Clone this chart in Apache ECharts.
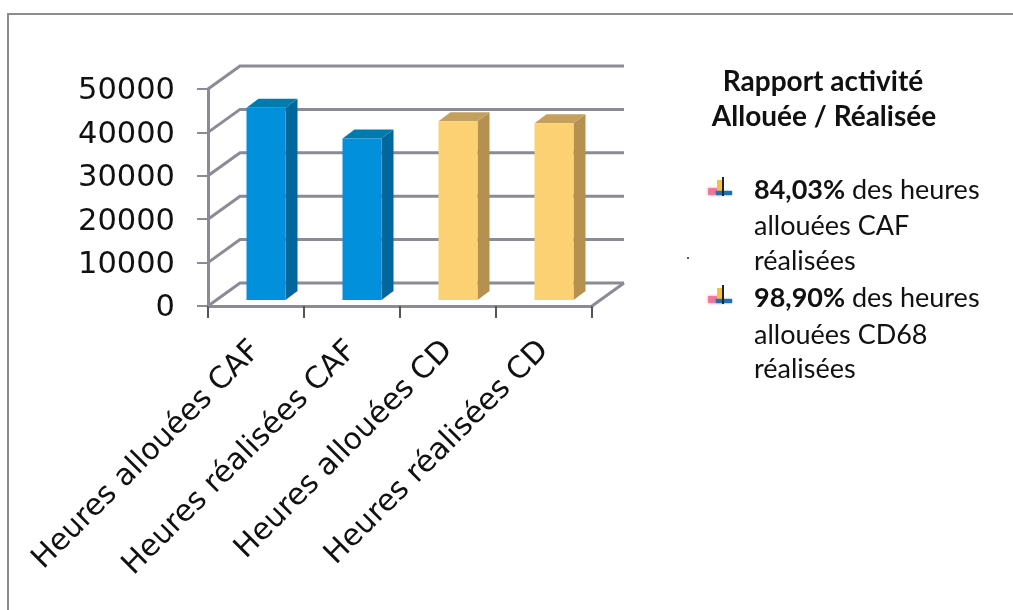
<!DOCTYPE html>
<html><head><meta charset="utf-8">
<style>html,body{margin:0;padding:0;background:#fff}#c{width:1013px;height:610px}</style>
<script src="https://cdn.jsdelivr.net/npm/echarts@6/dist/echarts.min.js"></script>
</head><body><div id="c"></div>
<script>
const categories = ['Heures allouées CAF','Heures réalisées CAF','Heures allouées CD','Heures réalisées CD'];
const hours = [44300, 37200, 41200, 40750];
const yTicks = [0,10000,20000,30000,40000,50000];
const panelTitle = ['Rapport activité','Allouée / Réalisée'];
const panelItems = [
  {bold:'84,03%', lines:[' des heures','allouées CAF','réalisées']},
  {bold:'98,90%', lines:[' des heures','allouées CD68','réalisées']}
];
const GRID='#8b8b96', WALL_DX=32, WALL_DY=-23;
const BAR_DX=10, BAR_DY=-6, BAR_W=39, DEPTH_X=12, DEPTH_Y=-9;
const palette=[
 {front:'#0090DC',side:'#00669B',top:'#007BAE'},
 {front:'#0090DC',side:'#00669B',top:'#007BAE'},
 {front:'#FCD173',side:'#B5904E',top:'#C4A05F'},
 {front:'#FCD173',side:'#B5904E',top:'#C4A05F'}
];
const chart=echarts.init(document.getElementById('c'),null,{renderer:'canvas'});

function icon(cx,cy){
  return [
    {type:'rect',shape:{x:cx-14,y:cy-2,width:14,height:7},style:{fill:'#ee6f93',opacity:.8,shadowBlur:3,shadowColor:'#ee6f93'}},
    {type:'rect',shape:{x:cx-5,y:cy-10,width:6,height:11},style:{fill:'#f5c23e'}},
    {type:'rect',shape:{x:cx-6,y:cy+1,width:16,height:4},style:{fill:'#1f6fb5',shadowBlur:2,shadowColor:'#1f6fb5'}},
    {type:'rect',shape:{x:cx,y:cy-13,width:2,height:19},style:{fill:'#222'}}
  ];
}
const TXT={font:'27px Lato',fill:'#111'};
const graphics=[
  {type:'rect',silent:true,z:-1,shape:{x:8,y:14,width:1100,height:700},style:{fill:'#fff',stroke:'#8c8c94',lineWidth:2}},
  {type:'text',x:823,y:82,style:{text:panelTitle[0],font:'bold 28px Lato',fill:'#111',align:'center',verticalAlign:'middle'}},
  {type:'text',x:824,y:117,style:{text:panelTitle[1],font:'bold 28px Lato',fill:'#111',align:'center',verticalAlign:'middle'}},
  {type:'circle',shape:{cx:688,cy:258,r:1},style:{fill:'#222'}}
];
const rowY=[[190,226,261],[298,335,369]];
panelItems.forEach((it,i)=>{
  graphics.push(...icon(722,rowY[i][0]));
  it.lines.forEach((ln,j)=>{
    if(j===0){
      graphics.push({type:'text',x:754,y:rowY[i][j],style:{
        text:'{b|'+it.bold+'}{r|'+ln+'}',verticalAlign:'middle',
        rich:{b:{font:'bold 27px Lato',fill:'#111'},r:{font:'27px Lato',fill:'#111'}}}});
    } else {
      graphics.push({type:'text',x:754,y:rowY[i][j],style:Object.assign({text:ln,verticalAlign:'middle'},TXT)});
    }
  });
});

chart.setOption({
  animation:false,
  backgroundColor:'#fff',
  graphic:graphics,
  grid:{left:208,top:89,width:384,height:217},
  xAxis:{type:'category',data:categories,
    axisLine:{lineStyle:{color:GRID,width:3}},
    axisTick:{show:true,length:12,lineStyle:{color:'#55555f',width:2}},
    axisLabel:{rotate:45,margin:40,color:'#111',fontFamily:'DejaVu Sans',fontSize:30,interval:0}},
  yAxis:{type:'value',min:0,max:50000,interval:10000,
    axisLine:{show:true,lineStyle:{color:GRID,width:3}},
    axisTick:{show:true,length:11,lineStyle:{color:GRID,width:2}},
    splitLine:{show:false},
    axisLabel:{margin:33,color:'#111',formatter:v=>'{a|'+v+'}',
      rich:{a:{fontFamily:'DejaVu Sans',fontSize:30.5,color:'#111',padding:[5,0,0,0]}}}},
  series:[
    {type:'custom',name:'wall',z:1,silent:true,
     data:yTicks.map(v=>[0,v]),
     renderItem(p,api){
       const cs=p.coordSys,y=api.coord([0,api.value(1)])[1];
       const children=[{type:'polyline',shape:{points:[[cs.x,y],[cs.x+WALL_DX,y+WALL_DY],[cs.x+cs.width+WALL_DX,y+WALL_DY]]},
          style:{fill:null,stroke:GRID,lineWidth:3}}];
       if(api.value(1)===0){
         children.push({type:'line',shape:{x1:cs.x+cs.width,y1:y,x2:cs.x+cs.width+WALL_DX,y2:y+WALL_DY},
          style:{stroke:GRID,lineWidth:3}});
       }
       return {type:'group',children};
     }},
    {type:'custom',name:'Heures',z:3,
     data:hours.map((v,i)=>[i,v]),
     encode:{x:0,y:1},
     renderItem(p,api){
       const i=api.value(0),c=palette[i];
       const top=api.coord([i,api.value(1)]),base=api.coord([i,0]);
       const x0=top[0]+BAR_DX-BAR_W/2,x1=x0+BAR_W,yt=top[1]+BAR_DY,yb=base[1]+BAR_DY;
       return {type:'group',children:[
         {type:'polygon',shape:{points:[[x1,yt],[x1+DEPTH_X,yt+DEPTH_Y],[x1+DEPTH_X,yb+DEPTH_Y],[x1,yb]]},style:{fill:c.side}},
         {type:'polygon',shape:{points:[[x0,yt],[x0+DEPTH_X,yt+DEPTH_Y],[x1+DEPTH_X,yt+DEPTH_Y],[x1,yt]]},style:{fill:c.top}},
         {type:'rect',shape:{x:x0,y:yt,width:BAR_W,height:yb-yt},style:{fill:c.front}}
       ]};
     }}
  ]
});
</script></body></html>
